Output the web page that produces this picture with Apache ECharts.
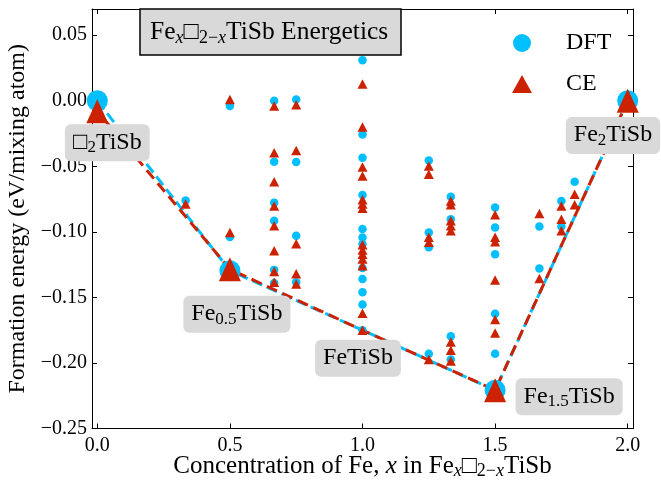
<!DOCTYPE html>
<html>
<head>
<meta charset="utf-8">
<script src="https://cdn.jsdelivr.net/npm/echarts@6/dist/echarts.min.js"></script>
<style>
  html, body { margin: 0; padding: 0; background: #fff; }
  #chart { width: 661px; height: 481px; }
</style>
</head>
<body>
<div id="chart"></div>
<script>
// Tick positions
const xTicks = [0, 0.5, 1, 1.5, 2];
const yTicks = [-0.25, -0.2, -0.15, -0.1, -0.05, 0, 0.05];

// Formation energies of all enumerated structures: [x, eV/mixing atom]
const dftPoints = [
  [0.333, -0.076],
  [0.5, -0.004], [0.5, -0.104],
  [0.667, 0.000], [0.667, -0.0465], [0.667, -0.0777], [0.667, -0.0916], [0.667, -0.129], [0.667, -0.139],
  [0.75, 0.001], [0.75, -0.0467], [0.75, -0.103], [0.75, -0.1385],
  [1, 0.031], [1, -0.0257], [1, -0.0435], [1, -0.0718], [1, -0.0979], [1, -0.1043], [1, -0.1093],
  [1, -0.1275], [1, -0.1359], [1, -0.146], [1, -0.1554], [1, -0.175],
  [1.25, -0.0455], [1.25, -0.1004], [1.25, -0.1118], [1.25, -0.1929],
  [1.333, -0.0733], [1.333, -0.0903], [1.333, -0.1797], [1.333, -0.1974],
  [1.5, -0.0815], [1.5, -0.0967], [1.5, -0.117], [1.5, -0.1625], [1.5, -0.1929],
  [1.667, -0.096], [1.667, -0.128],
  [1.75, -0.0764], [1.75, -0.0959],
  [1.8, -0.0617]
];

const cePoints = [
  [0.333, -0.0788],
  [0.5, 0.001], [0.5, -0.1005],
  [0.667, -0.004], [0.667, -0.0397], [0.667, -0.0617], [0.667, -0.0802], [0.667, -0.0954],
  [0.667, -0.1144], [0.667, -0.1303], [0.667, -0.1384],
  [0.75, -0.003], [0.75, -0.038], [0.75, -0.109], [0.75, -0.132], [0.75, -0.1397],
  [1, 0.0128], [1, -0.0201], [1, -0.0505], [1, -0.0574], [1, -0.0755], [1, -0.0787], [1, -0.082],
  [1, -0.1098], [1, -0.1138], [1, -0.117], [1, -0.1207], [1, -0.1258], [1, -0.162], [1, -0.175],
  [1.25, -0.0498], [1.25, -0.056], [1.25, -0.1042], [1.25, -0.108], [1.25, -0.1974],
  [1.333, -0.0764], [1.333, -0.0794], [1.333, -0.0916], [1.333, -0.0954], [1.333, -0.0992],
  [1.333, -0.184], [1.333, -0.1904], [1.333, -0.1985],
  [1.5, -0.087], [1.5, -0.1042], [1.5, -0.1075], [1.5, -0.1367], [1.5, -0.1668], [1.5, -0.1772],
  [1.667, -0.086], [1.667, -0.1355],
  [1.75, -0.0802], [1.75, -0.0903], [1.75, -0.0992],
  [1.8, -0.0713], [1.8, -0.0794]
];

// Ground states and convex hulls
const dftGround = [[0, 0], [0.5, -0.1296], [1.5, -0.2208], [2, 0]];
const ceGround = [[0, -0.008], [0.5, -0.1285], [1.5, -0.2208], [2, 0]];
const dftHull = [[0, 0], [0.5, -0.1296], [1, -0.175], [1.5, -0.2208], [2, 0]];
const ceHull = [[0, -0.008], [0.5, -0.1285], [1, -0.175], [1.5, -0.2208], [2, 0]];

// Phase names placed at the hull vertices
const phaseNames = ['□{s|2}TiSb', 'Fe{s|0.5}TiSb', 'FeTiSb', 'Fe{s|1.5}TiSb', 'Fe{s|2}TiSb'];

const SERIF = "'Liberation Serif', 'DejaVu Serif', serif";
const BLUE = '#00bfff';
const RED = '#cc2200';
const INK = '#000';

const subStyle = { fontFamily: SERIF, fontSize: 17, lineHeight: 14, verticalAlign: 'bottom', color: INK };
const subItalic = Object.assign({}, subStyle, { fontStyle: 'italic' });
const richText = { s: subStyle, si: subItalic, i: { fontFamily: SERIF, fontSize: 24, fontStyle: 'italic', color: INK } };

const bigSub = { fontFamily: SERIF, fontSize: 18, lineHeight: 14, verticalAlign: 'bottom', color: INK };
const richBig = {
  s: bigSub,
  si: Object.assign({}, bigSub, { fontStyle: 'italic' }),
  i: { fontFamily: SERIF, fontSize: 25, fontStyle: 'italic', color: INK }
};

const labelShift = [[10, 42], [7, 43.5], [-4.5, 28], [74, 6.6], [-14.7, 34.7]];

const fmtY = v => (v < -1e-9 ? '−' : '') + Math.abs(v).toFixed(2);

const baseX = {
  type: 'value', min: -0.02, max: 2.02,
  axisLine: { onZero: false, lineStyle: { color: INK, width: 1 } },
  axisTick: { inside: true, length: 5, customValues: xTicks, lineStyle: { color: INK } },
  splitLine: { show: false }
};
const baseY = {
  type: 'value', min: -0.25, max: 0.07,
  axisLine: { onZero: false, lineStyle: { color: INK, width: 1 } },
  axisTick: { inside: true, length: 5, customValues: yTicks, lineStyle: { color: INK } },
  splitLine: { show: false }
};

const chart = echarts.init(document.getElementById('chart'), null, { renderer: 'canvas' });

chart.setOption({
  animation: false,
  backgroundColor: '#fff',
  textStyle: { fontFamily: SERIF },
  grid: { left: 92, top: 9, width: 541, height: 419.5, containLabel: false, outerBoundsMode: 'none' },
  title: {
    text: 'Fe{si|x}□{s|2−}{si|x}TiSb Energetics',
    left: 140, top: 9,
    padding: [8, 13, 8, 10],
    backgroundColor: '#d9d9d9',
    borderColor: INK, borderWidth: 1.5,
    textStyle: { fontFamily: SERIF, fontSize: 25.5, fontWeight: 'normal', color: INK, lineHeight: 30, rich: richBig }
  },
  legend: {
    data: ['DFT', 'CE'],
    orient: 'vertical',
    left: 512, top: 31,
    padding: 0,
    itemWidth: 20, itemHeight: 18, itemGap: 17,
    selectedMode: false,
    textStyle: { fontFamily: SERIF, fontSize: 24, color: INK, padding: [0, 0, 0, 29] }
  },
  xAxis: [
    Object.assign({}, baseX, {
      position: 'bottom',
      axisLabel: { customValues: xTicks, formatter: v => v.toFixed(1), fontFamily: SERIF, fontSize: 20, color: INK, margin: 7 },
      name: 'Concentration of Fe, {i|x} in Fe{si|x}□{s|2−}{si|x}TiSb',
      nameLocation: 'middle', nameGap: 24, nameMoveOverlap: false,
      nameTextStyle: { fontFamily: SERIF, fontSize: 25, color: INK, lineHeight: 28, rich: richBig }
    }),
    Object.assign({}, baseX, { position: 'top', axisLabel: { show: false } })
  ],
  yAxis: [
    Object.assign({}, baseY, {
      position: 'left',
      axisLabel: { customValues: yTicks, formatter: fmtY, fontFamily: SERIF, fontSize: 20, color: INK, margin: 5 },
      name: 'Formation energy (eV/mixing atom)',
      nameLocation: 'middle', nameGap: 58, nameRotate: 90,
      nameTextStyle: { fontFamily: SERIF, fontSize: 24, color: INK }
    }),
    Object.assign({}, baseY, { position: 'right', axisLabel: { show: false } })
  ],
  series: [
    {
      name: 'DFT hull', type: 'line', data: dftHull, symbol: 'none', z: 2, silent: true,
      lineStyle: { color: BLUE, width: 3, type: [11, 5] }
    },
    {
      name: 'CE hull', type: 'line', data: ceHull, symbol: 'none', z: 3, silent: true,
      lineStyle: { color: RED, width: 3, type: [11, 6], dashOffset: 8 }
    },
    {
      name: 'DFT', type: 'scatter', data: dftPoints, symbol: 'circle', symbolSize: 8.5, z: 4,
      itemStyle: { color: BLUE, opacity: 1 }
    },
    {
      name: 'CE', type: 'scatter', data: cePoints, symbol: 'triangle', symbolSize: [10, 9.5], z: 5,
      itemStyle: { color: RED, opacity: 1 }
    },
    {
      name: 'DFT', type: 'scatter', data: dftGround, symbol: 'circle', symbolSize: 21, z: 6,
      itemStyle: { color: BLUE, opacity: 1 }
    },
    {
      name: 'CE', type: 'scatter', data: ceGround, symbol: 'triangle', symbolSize: [22, 24], z: 7,
      itemStyle: { color: RED, opacity: 1 }
    },
    {
      name: 'phases', type: 'scatter', symbolSize: 1, z: 9, silent: true,
      itemStyle: { color: 'transparent', opacity: 1 },
      data: dftHull.map((p, i) => ({
        value: p,
        label: { formatter: phaseNames[i], offset: labelShift[i] }
      })),
      label: {
        show: true, position: 'inside', opacity: 1,
        fontFamily: SERIF, fontSize: 24, lineHeight: 28, color: INK,
        backgroundColor: '#d9d9d9', borderRadius: 6, padding: [4, 8, 5, 8],
        rich: richText
      }
    }
  ]
});
</script>
</body>
</html>
